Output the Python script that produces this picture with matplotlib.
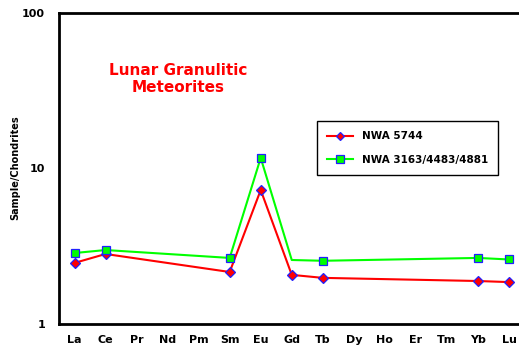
import numpy as np
import matplotlib.pyplot as plt

elements = ["La", "Ce", "Pr", "Nd", "Pm", "Sm", "Eu", "Gd", "Tb", "Dy", "Ho", "Er", "Tm", "Yb", "Lu"]

# chondrite-normalised REE, NaN = not measured
nwa5744 = [2.47, 2.82, np.nan, np.nan, np.nan, 2.16, 7.27, 2.07, 1.98, np.nan, np.nan, np.nan, np.nan, 1.89, 1.86]
nwa3163 = [2.86, 2.99, np.nan, np.nan, np.nan, 2.66, 11.7, 2.58, 2.55, np.nan, np.nan, np.nan, np.nan, 2.66, 2.60]

fig = plt.figure(figsize=(5.19, 3.51), dpi=100)
ax = fig.add_axes([59 / 519, 27 / 351, 465.5 / 519, 311 / 351])

x = np.arange(len(elements))

def plot_series(vals, color, marker, ms, label, no_marker=()):
    vals = np.array(vals)
    ok = ~np.isnan(vals)
    xs, ys = x[ok], vals[ok]
    mk = [i for i, xi in enumerate(xs) if xi not in no_marker]
    ax.plot(xs, ys, color=color, lw=1.5, marker=marker, ms=ms, mfc=color,
            mec="#2020ff", mew=0.9, markevery=mk, label=label)

plot_series(nwa5744, "red", "D", 5, "NWA 5744")
plot_series(nwa3163, "#00ff00", "s", 6, "NWA 3163/4483/4881", no_marker=(7,))

ax.set_yscale("log")
ax.set_ylim(1, 100)
ax.set_xlim(-0.5, 14.5)
ax.set_yticks([1, 10, 100])
ax.set_yticklabels(["1", "10", "100"])
ax.minorticks_off()
ax.set_xticks(x)
ax.set_xticklabels(elements)
ax.tick_params(length=0, labelsize=8, pad=8)
for lab in ax.get_xticklabels() + ax.get_yticklabels():
    lab.set_fontweight("bold")
ax.tick_params(axis="y", pad=10)

for side in ["left", "bottom", "top"]:
    ax.spines[side].set_linewidth(2)
ax.spines["right"].set_visible(False)

fig.text(15 / 519, 1 - 168 / 351, "Sample/Chondrites", rotation=90, fontsize=7,
         fontweight="bold", ha="center", va="center")

fig.text(178 / 519, 1 - 79 / 351, "Lunar Granulitic\nMeteorites", color="red",
         fontsize=11, fontweight="bold", ha="center", va="center", linespacing=1.15)

leg = ax.legend(loc="upper left", bbox_to_anchor=(317 / 519, 1 - 121 / 351),
                bbox_transform=fig.transFigure, prop={"weight": "bold", "size": 7.5},
                fancybox=False, edgecolor="black", framealpha=1, borderpad=1.0,
                labelspacing=1.3, handlelength=2.5, borderaxespad=0, markerscale=0.85)
leg.get_frame().set_linewidth(1.0)

fig.savefig("out.png", dpi=100)
